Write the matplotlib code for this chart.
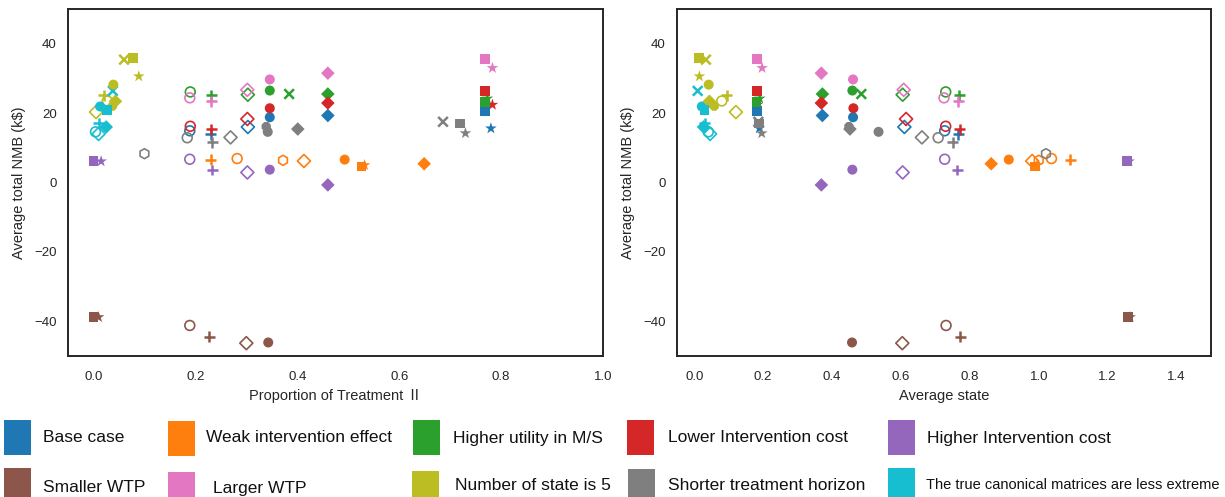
import numpy as np
import matplotlib
matplotlib.use("Agg")
import matplotlib.pyplot as plt
from matplotlib.patches import Rectangle

plt.rcParams['font.family'] = ['Liberation Sans', 'DejaVu Sans']

nan = np.nan

# Scenario colours (data order): blue, orange, green, red, purple, brown, pink, olive, gray, cyan
data_colors = ["#1f77b4", "#ff7f0e", "#2ca02c", "#d62728", "#9467bd",
               "#8c564b", "#e377c2", "#bcbd22", "#7f7f7f", "#17becf"]

# --- filled square ---
prop_sq  = [0.769, 0.526, 0.769, 0.769, 0.000, 0.000, 0.769, 0.077, 0.720, 0.027]
state_sq = [0.183, 0.988, 0.181, 0.183, 1.255, 1.258, 0.183, 0.015, 0.188, 0.030]
nmb_sq   = [20.7, 4.6, 23.1, 26.3, 6.2, -38.8, 35.6, 35.9, 17.0, 20.9]
# --- star ---
prop_st  = [0.780, 0.532, 0.773, 0.783, 0.015, 0.010, 0.783, 0.089, 0.730, nan]
state_st = [0.189, 0.995, 0.190, 0.183, 1.262, 1.265, 0.197, 0.015, 0.196, nan]
nmb_st   = [15.6, 5.0, 24.2, 22.4, 6.1, -38.8, 33.0, 30.6, 14.2, nan]
# --- x ---
prop_x   = [nan, nan, 0.384, nan, nan, nan, nan, 0.060, 0.686, 0.038]
state_x  = [nan, nan, 0.485, nan, nan, nan, nan, 0.034, 0.186, 0.010]
nmb_x    = [nan, nan, 25.5, nan, nan, nan, nan, 35.4, 17.5, 26.4]
# --- filled circle ---
prop_ci  = [0.346, 0.493, 0.346, 0.346, 0.346, 0.343, 0.346, 0.039, 0.342, 0.013]
state_ci = [0.461, 0.913, 0.459, 0.462, 0.459, 0.458, 0.461, 0.042, 0.535, 0.022]
nmb_ci   = [18.8, 6.6, 26.5, 21.4, 3.7, -46.1, 29.7, 28.2, 14.6, 21.9]
# --- filled diamond ---
prop_di  = [0.460, 0.649, 0.460, 0.460, 0.460, nan, 0.460, 0.043, 0.401, 0.025]
state_di = [0.372, 0.862, 0.372, 0.369, 0.369, nan, 0.369, 0.044, 0.452, 0.027]
nmb_di   = [19.3, 5.4, 25.5, 22.9, -0.7, nan, 31.5, 23.4, 15.4, 16.0]
# --- open circle ---
prop_oc  = [0.189, 0.282, 0.190, 0.190, 0.189, 0.189, 0.189, 0.027, 0.184, 0.004]
state_oc = [0.727, 1.037, 0.730, 0.730, 0.727, 0.731, 0.725, 0.080, 0.708, 0.041]
nmb_oc   = [14.9, 6.9, 26.1, 16.2, 6.7, -41.2, 24.4, 23.5, 12.9, 14.6]
# --- open diamond ---
prop_od  = [0.303, 0.413, 0.303, 0.302, 0.302, 0.300, 0.302, 0.005, 0.269, 0.010]
state_od = [0.610, 0.981, 0.605, 0.615, 0.605, 0.604, 0.608, 0.121, 0.661, 0.046]
nmb_od   = [16.0, 6.2, 25.3, 18.3, 2.9, -46.3, 26.7, 20.3, 13.0, 14.0]
# --- plus ---
prop_pl  = [0.230, 0.230, 0.231, 0.231, 0.233, 0.227, 0.231, 0.020, 0.233, 0.010]
state_pl = [0.766, 1.092, 0.769, 0.771, 0.764, 0.772, 0.766, 0.094, 0.750, 0.030]
nmb_pl   = [13.9, 6.6, 25.1, 15.4, 3.6, -44.5, 23.4, 25.2, 11.6, 17.1]
# --- open hexagon ---
prop_hx  = [nan, 0.372, nan, nan, nan, nan, nan, nan, 0.100, nan]
state_hx = [nan, 1.000, nan, nan, nan, nan, nan, nan, 1.021, nan]
nmb_hx   = [nan, 6.4, nan, nan, nan, nan, nan, nan, 8.3, nan]
# --- filled octagon ---
prop_oc8  = [nan, nan, nan, nan, nan, nan, nan, 0.037, 0.339, nan]
state_oc8 = [nan, nan, nan, nan, nan, nan, nan, 0.058, 0.449, nan]
nmb_oc8   = [nan, nan, nan, nan, nan, nan, nan, 22.0, 16.1, nan]

methods = [
    (prop_oc, state_oc, nmb_oc, dict(marker='o', s=50, facecolors='none', linewidths=1.2), 'open'),
    (prop_od, state_od, nmb_od, dict(marker='D', s=44, facecolors='none', linewidths=1.2), 'open'),
    (prop_hx, state_hx, nmb_hx, dict(marker='h', s=52, facecolors='none', linewidths=1.2), 'open'),
    (prop_pl, state_pl, nmb_pl, dict(marker='+', s=62, linewidths=1.8), 'line'),
    (prop_x, state_x, nmb_x, dict(marker='x', s=48, linewidths=1.8), 'line'),
    (prop_oc8, state_oc8, nmb_oc8, dict(marker='8', s=52), 'fill'),
    (prop_ci, state_ci, nmb_ci, dict(marker='o', s=52), 'fill'),
    (prop_di, state_di, nmb_di, dict(marker='D', s=48), 'fill'),
    (prop_st, state_st, nmb_st, dict(marker='*', s=78), 'fill'),
    (prop_sq, state_sq, nmb_sq, dict(marker='s', s=50), 'fill'),
]

W, H = 1225, 497
fig = plt.figure(figsize=(W / 100, H / 100), dpi=100)

def fx(px):
    return px / W

def fy(py):
    return 1 - py / H

axL = fig.add_axes([fx(68), fy(356), fx(603) - fx(68), fy(9) - fy(356)])
axR = fig.add_axes([fx(677), fy(356), fx(1211) - fx(677), fy(9) - fy(356)])

spine_col = "#262626"
for ax, idx, xlim, xticks, xlabel in [
        (axL, 0, (-0.05, 1.0), [0.0, 0.2, 0.4, 0.6, 0.8, 1.0], "Proportion of Treatment \u2161"),
        (axR, 1, (-0.05, 1.5), [0.0, 0.2, 0.4, 0.6, 0.8, 1.0, 1.2, 1.4], "Average state")]:
    for xp, xs, yv, kw, kind in methods:
        xv = np.array(xp if idx == 0 else xs, dtype=float)
        yy = np.array(yv, dtype=float)
        m = ~np.isnan(xv)
        cols = [c for c, ok in zip(data_colors, m) if ok]
        kw = dict(kw)
        if kind == 'open':
            ax.scatter(xv[m], yy[m], edgecolors=cols, zorder=3, **kw)
        elif kind == 'line':
            ax.scatter(xv[m], yy[m], c=cols, zorder=3, **kw)
        else:
            ax.scatter(xv[m], yy[m], c=cols, linewidths=0, zorder=3, **kw)
    ax.set_xlim(*xlim)
    ax.set_ylim(-50, 50)
    ax.set_xticks(xticks)
    ax.set_xticklabels([f"{t:.1f}" for t in xticks])
    ax.set_yticks([-40, -20, 0, 20, 40])
    ax.tick_params(axis='x', length=0, labelsize=9.5, colors="#262626", pad=11)
    ax.tick_params(axis='y', length=0, labelsize=9.5, colors="#262626", pad=8)
    for sp in ax.spines.values():
        sp.set_color(spine_col)
        sp.set_linewidth(1.4)
    ax.set_xlabel(xlabel, fontsize=10.5, color="#262626", labelpad=4,
                  family=['Liberation Sans', 'Noto Sans CJK SC', 'DejaVu Sans'])
    ax.set_ylabel("Average total NMB (k$)", fontsize=10.5, color="#262626", labelpad=6)

# Legend drawn as coloured squares with labels
legend_labels = ["Base case", "Weak intervention effect", "Higher utility in M/S",
                 "Lower Intervention cost", "Higher Intervention cost",
                 "Smaller WTP", "Larger WTP", "Number of state is 5",
                 "Shorter treatment horizon", "The true canonical matrices are less extreme"]
legend_colors = ["#1f77b4", "#ff7f0e", "#2ca02c", "#d62728", "#9467bd",
                 "#8c564b", "#e377c2", "#bcbd22", "#7f7f7f", "#17becf"]
patch_x = [4, 168, 413, 627, 888, 4, 168, 412, 628, 888]
text_x = [43, 206, 453, 668, 927, 43, 213, 455, 668, 926]
patch_y = [420, 421, 420, 420, 420, 468, 472, 471, 469, 468]
text_y = [438, 438, 438, 438, 438, 488, 488, 486, 485, 485]
for i, (lab, col) in enumerate(zip(legend_labels, legend_colors)):
    px0, py0 = patch_x[i], patch_y[i]
    fig.add_artist(Rectangle((fx(px0), fy(py0 + 35)), 27 / W, 35 / H,
                             transform=fig.transFigure, facecolor=col, edgecolor='none'))
    fs = 12.5 if i != 9 else 10.5
    fig.text(fx(text_x[i]), fy(text_y[i]), lab, fontsize=fs, va='center', ha='left',
             color="#111111")

fig.savefig("out.png", dpi=100)
